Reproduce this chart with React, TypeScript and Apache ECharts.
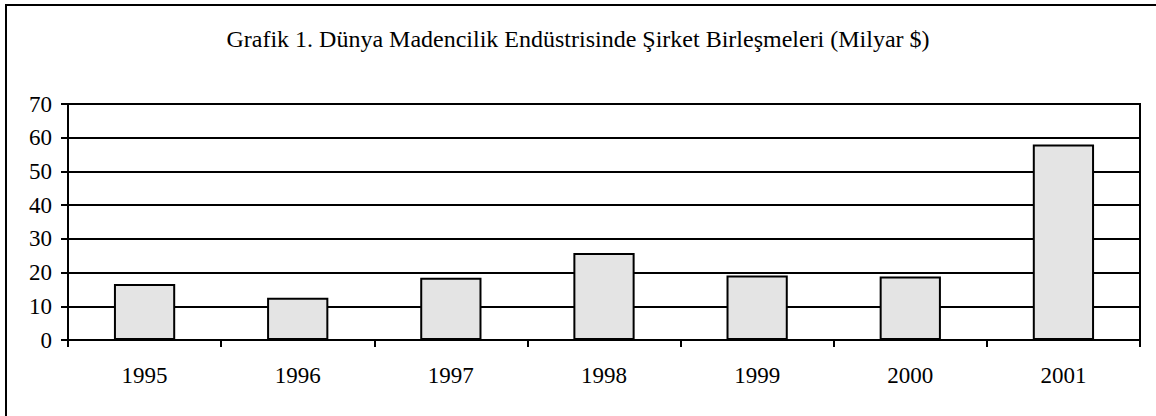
import React, { useEffect, useRef } from "react";
import * as echarts from "echarts";

const titleText = "Grafik 1. Dünya Madencilik Endüstrisinde Şirket Birleşmeleri (Milyar $)";
const years = ["1995", "1996", "1997", "1998", "1999", "2000", "2001"];
const mergers = [16.6, 12.5, 18.5, 25.8, 19.1, 18.8, 58.0];

export default function App() {
  const ref = useRef<HTMLDivElement>(null);
  useEffect(() => {
    if (!ref.current) return;
    const chart = echarts.init(ref.current, null, { renderer: "svg" });
    const font = "'Liberation Serif', 'Times New Roman', serif";
    chart.setOption({
      animation: false,
      backgroundColor: "#ffffff",
      title: {
        text: titleText,
        left: "center",
        top: 22,
        textStyle: { fontFamily: font, fontSize: 24, fontWeight: "normal", color: "#000" },
      },
      graphic: [
        {
          type: "rect",
          shape: { x: 6, y: 5, width: 1170, height: 430 },
          style: { fill: "none", stroke: "#000", lineWidth: 2 },
          silent: true,
        },
      ],
      grid: {
        left: 68,
        right: 16,
        top: 104,
        bottom: 76,
        show: true,
        borderColor: "#000",
        borderWidth: 2,
        backgroundColor: "transparent",
      },
      xAxis: {
        type: "category",
        data: years,
        axisLine: { show: true, lineStyle: { color: "#000", width: 2 } },
        axisTick: { show: true, alignWithLabel: false, length: 7, lineStyle: { color: "#000", width: 2 } },
        axisLabel: { color: "#000", fontFamily: font, fontSize: 23, margin: 24 },
      },
      yAxis: {
        type: "value",
        min: 0,
        max: 70,
        interval: 10,
        axisLine: { show: true, lineStyle: { color: "#000", width: 2 } },
        axisTick: { show: true, length: 7, lineStyle: { color: "#000", width: 2 } },
        axisLabel: { color: "#000", fontFamily: font, fontSize: 23, margin: 16 },
        splitLine: { show: true, lineStyle: { color: "#000", width: 2 } },
      },
      series: [
        {
          type: "bar",
          data: mergers,
          barCategoryGap: "60%",
          itemStyle: { color: "#e4e4e4", borderColor: "#000", borderWidth: 2 },
        },
      ],
    });
    return () => chart.dispose();
  }, []);
  return (
    <div
      ref={ref}
      style={{ position: "absolute", left: 0, top: 0, width: 1156, height: 416 }}
    />
  );
}
